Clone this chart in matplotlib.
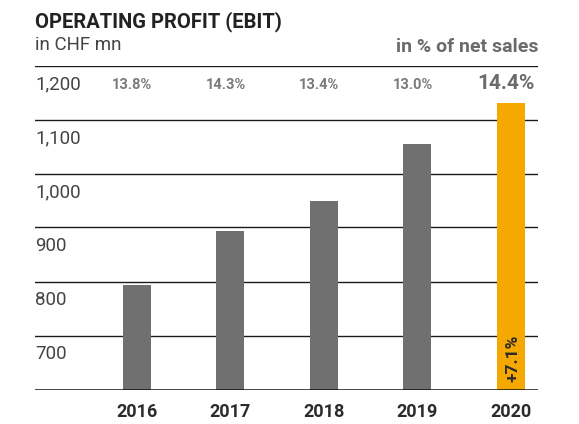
import numpy as np
import matplotlib
matplotlib.use('Agg')
from matplotlib import pyplot as plt

# data
years = ['2016', '2017', '2018', '2019', '2020']
ebit = [793, 894, 949, 1055, 1130]
margin = ['13.8%', '14.3%', '13.4%', '13.0%', '14.4%']
growth_label = '+7.1%'
yticks = [700, 800, 900, 1000, 1100, 1200]
ymin = 600

plt.rcParams['font.family'] = ['Roboto', 'DejaVu Sans']

W, H = 579, 424
fig = plt.figure(figsize=(W / 100, H / 100), dpi=100)
ax = fig.add_axes([35 / W, 1 - 389.5 / H, (538 - 35) / W, (389.5 - 65.5) / H])

x = np.arange(len(years))
colors = ['#707070'] * (len(years) - 1) + ['#f5a800']
ax.bar(x, [v - ymin for v in ebit], bottom=ymin, width=0.30, color=colors, zorder=3)

ax.set_xlim(-1.09, 4.29)
ax.set_ylim(ymin, yticks[-1])

for t in yticks:
    ax.axhline(t, color='#1a1a1a', lw=1.0, zorder=1)
    label = f'{t:,}'
    ax.text(0, t - 44, label, transform=ax.get_yaxis_transform(), ha='left',
            va='baseline', fontsize=13.5, fontweight='normal', color='#444444')
ax.axhline(ymin, color='#111111', lw=1.8, zorder=4)

for i, m in enumerate(margin):
    last = i == len(margin) - 1
    ax.text(x[i] - 0.05, yticks[-1] - 44, m, ha='center', va='baseline',
            fontsize=15 if last else 10.5, fontweight='bold',
            color='#6b6b6b' if last else '#7a7a7a')

ax.text(x[-1] + 0.02, ymin + 14, growth_label, rotation=90, ha='center', va='bottom',
        fontsize=12.5, fontweight='bold', color='#2b2b2b', zorder=5)

ax.set_xticks(x)
ax.set_xticklabels(years, fontsize=13, fontweight='bold', color='#2b2b2b')
ax.tick_params(axis='x', length=0, pad=10)
ax.set_yticks([])
for s in ax.spines.values():
    s.set_visible(False)

fig.text(35 / W, 1 - 27 / H, 'OPERATING PROFIT (EBIT)', ha='left', va='baseline',
         fontsize=14.5, fontweight='bold', color='#222222')
fig.text(35 / W, 1 - 50 / H, 'in CHF mn', ha='left', va='baseline',
         fontsize=13.5, fontweight='normal', color='#444444')
fig.text(538 / W, 1 - 52 / H, 'in % of net sales', ha='right', va='baseline',
         fontsize=14, fontweight='bold', color='#6b6b6b')

fig.savefig('out.png', dpi=100)
